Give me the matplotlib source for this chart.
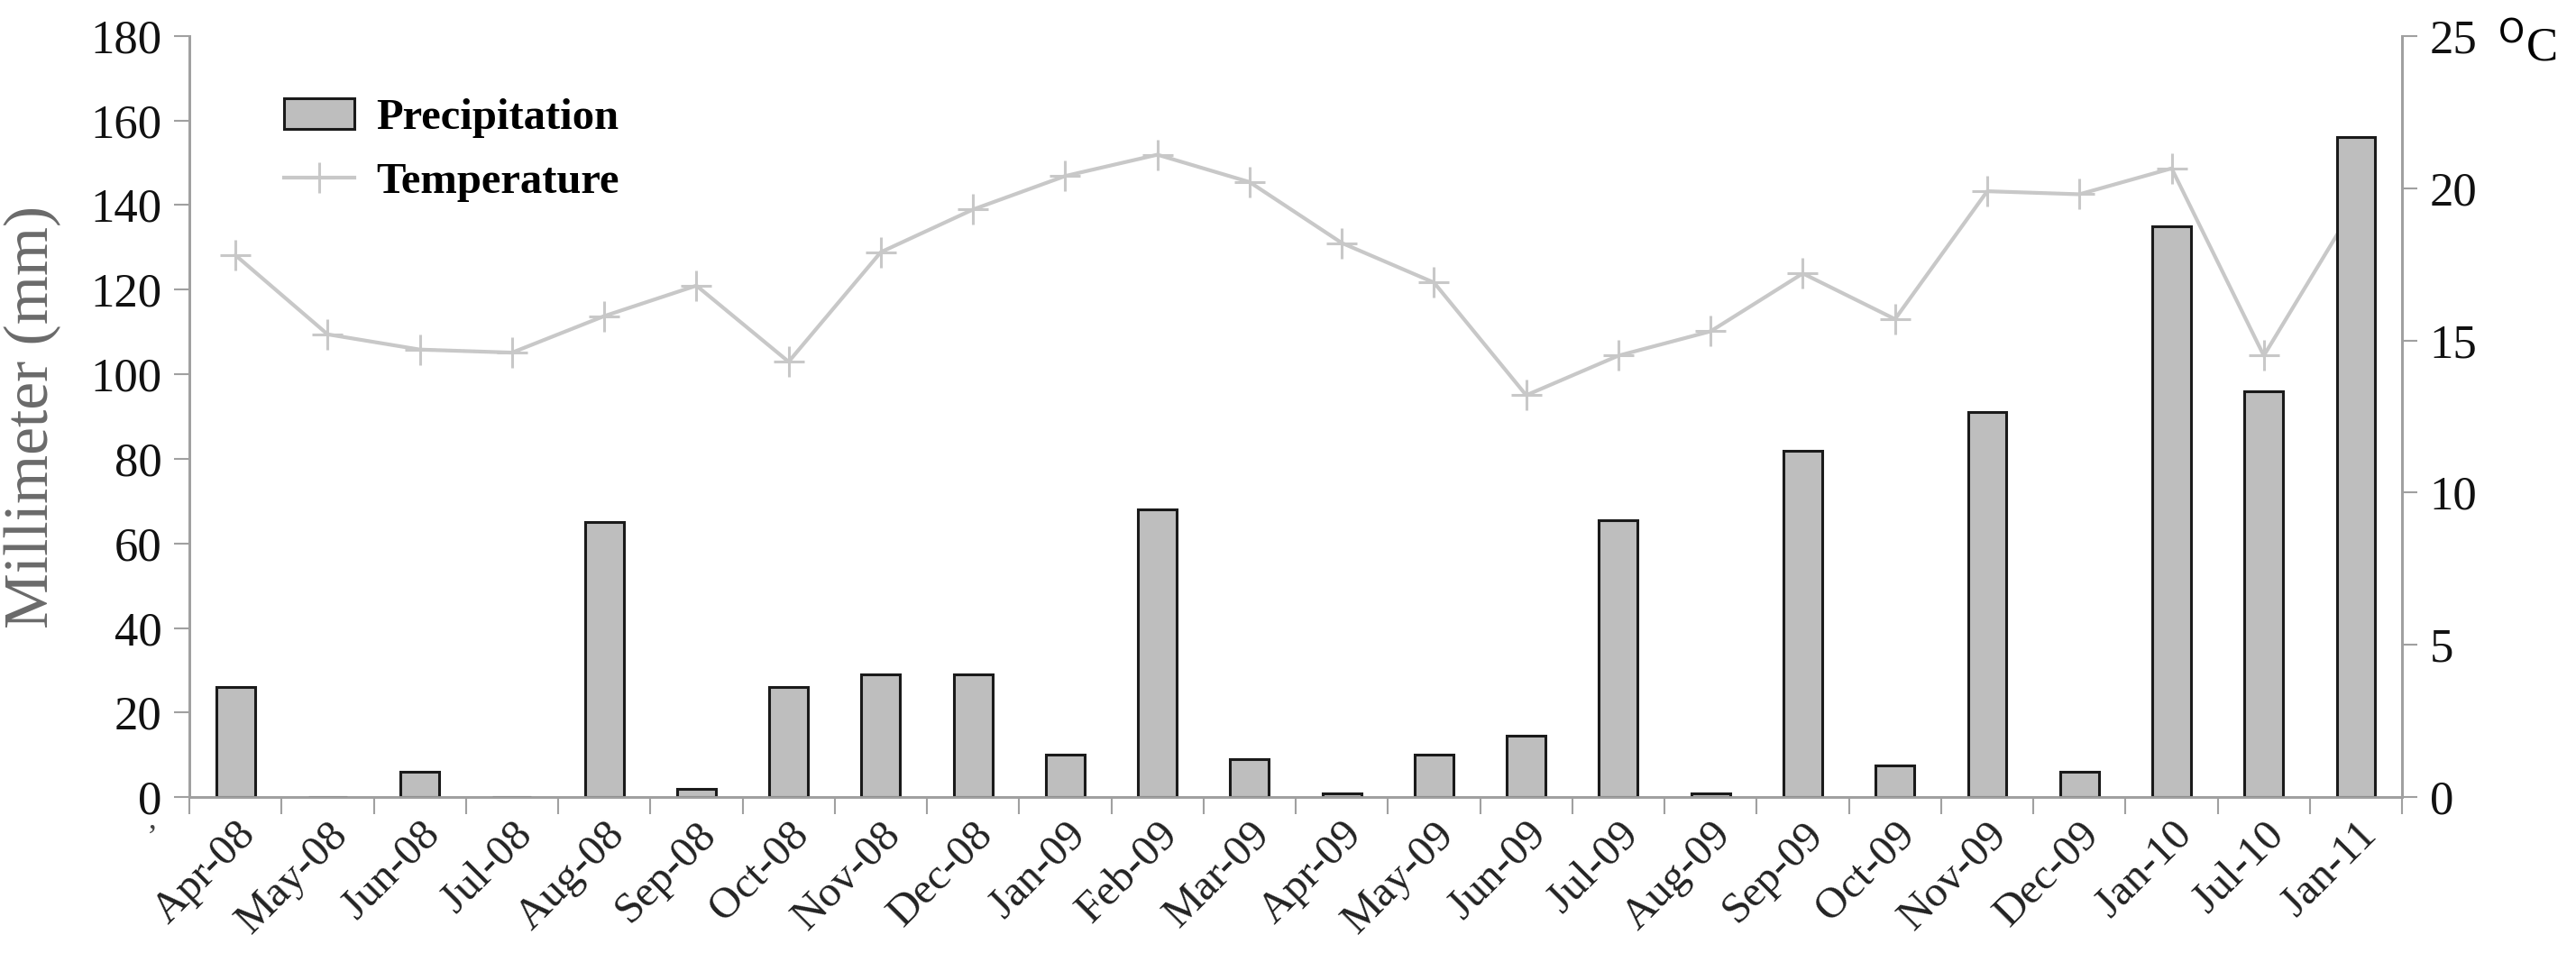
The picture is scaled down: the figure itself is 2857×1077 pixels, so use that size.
import numpy as np
import matplotlib
matplotlib.use('Agg')
import matplotlib.pyplot as plt
from matplotlib.patches import Patch
from matplotlib.lines import Line2D

plt.rcParams['font.family'] = ['Liberation Serif', 'DejaVu Serif']

months = ['Apr-08', 'May-08', 'Jun-08', 'Jul-08', 'Aug-08', 'Sep-08', 'Oct-08', 'Nov-08',
          'Dec-08', 'Jan-09', 'Feb-09', 'Mar-09', 'Apr-09', 'May-09', 'Jun-09', 'Jul-09',
          'Aug-09', 'Sep-09', 'Oct-09', 'Nov-09', 'Dec-09', 'Jan-10', 'Jul-10', 'Jan-11']
precip = [26, 0, 6, 0, 65, 2, 26, 29, 29, 10, 68, 9, 1, 10, 14.5, 65.5,
          1, 82, 7.5, 91, 6, 135, 96, 156]
temp = [17.8, 15.2, 14.7, 14.6, 15.8, 16.8, 14.3, 17.9, 19.3, 20.4, 21.1, 20.2,
        18.2, 16.9, 13.2, 14.5, 15.3, 17.2, 15.7, 19.9, 19.8, 20.65, 14.5, 19.5]

x = np.arange(len(months))
axis_grey = '#a0a0a0'

fig = plt.figure(figsize=(28.57, 10.77), dpi=100)
ax = fig.add_axes([0.0735, 0.179, 0.859, 0.784])
ax2 = ax.twinx()

ax.bar(x, precip, width=0.42, color='#bebebe', edgecolor='#1a1a1a', linewidth=2.2, zorder=2)
ax2.plot(x, temp, color='#c8c8c8', lw=3, marker='+', ms=24, mew=2.2, zorder=3)
ax.set_zorder(ax2.get_zorder() + 1)
ax.patch.set_visible(False)

ax.set_xlim(-0.5, len(months) - 0.5)
ax.set_ylim(0, 180)
ax2.set_ylim(0, 25)
ax.set_yticks(np.arange(0, 181, 20))
ax2.set_yticks(np.arange(0, 26, 5))

ax.set_xticks(x)
ax.set_xticklabels(months, rotation=45, ha='right', rotation_mode='anchor', fontsize=35, color='#222222')
ax.set_xticks(np.arange(-0.5, len(months), 1), minor=True)
ax.tick_params(axis='x', which='major', length=0, pad=14)
ax.tick_params(axis='x', which='minor', length=14, width=1.5, color=axis_grey, direction='out')
ax.tick_params(axis='y', labelsize=38, length=12, width=1.5, color=axis_grey, pad=10, labelcolor='#111111')
ax2.tick_params(axis='y', labelsize=38, length=12, width=1.5, color=axis_grey, pad=10, labelcolor='#111111')

for a in (ax, ax2):
    a.spines['top'].set_visible(False)
    for s in ('left', 'right', 'bottom'):
        a.spines[s].set_color(axis_grey)
        a.spines[s].set_linewidth(2)

ax.set_ylabel('Millimeter (mm)', fontsize=50, color='#6a6a6a')
ax.yaxis.set_label_coords(-0.058, 0.5)
ax2.text(1.043, 0.985, r'$^{\rm O}$C', transform=ax2.transAxes, fontsize=38, va='center', ha='left')
fig.text(0.057, 0.128, '\u2019', fontsize=26, color='#444444')

handles = [Patch(facecolor='#bebebe', edgecolor='#1a1a1a', linewidth=2.2),
           Line2D([], [], color='#c8c8c8', lw=3, marker='+', ms=24, mew=2.2)]
ax.legend(handles, ['Precipitation', 'Temperature'], loc='upper left',
          bbox_to_anchor=(0.025, 0.97), frameon=False,
          prop={'weight': 'bold', 'size': 35}, handlelength=1.6, labelspacing=0.55, handletextpad=0.5)

fig.savefig('out.png', dpi=100)
